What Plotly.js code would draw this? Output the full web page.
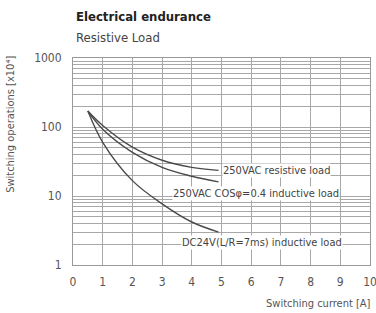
<!DOCTYPE html>
<html>
<head>
<meta charset="utf-8">
<script src="https://cdn.plot.ly/plotly-3.0.1.min.js"></script>
<style>html,body{margin:0;padding:0;background:#fff;}</style>
</head>
<body>
<div id="chart" style="width:376px;height:313px;"></div>
<script>
// Data
const currentA = [0.5, 1, 2, 3, 4, 4.9];
const resistive250 = [170, 105, 51, 33, 26, 23.5];
const inductive250 = [170, 93, 43, 26, 19.3, 16];
const dc24 = [170, 60, 16.7, 7.7, 4.2, 3.0];

const seriesNames = ["250VAC resistive load", "250VAC COSφ=0.4 inductive load", "DC24V(L/R=7ms) inductive load"];
const xTicks = [0,1,2,3,4,5,6,7,8,9,10];
const yDecades = [1, 10, 100, 1000];

const FONT = "'Liberation Sans Narrow', 'DejaVu Sans Condensed', 'Arial Narrow', sans-serif";
const lineColor = "#4a4a4a";

// log gridline values (1..9 per decade)
const yTickVals = [];
const yTickText = [];
for (let d = 0; d < 3; d++) {
  for (let m = 1; m <= 9; m++) {
    const v = m * Math.pow(10, d);
    yTickVals.push(v);
    yTickText.push(yDecades.includes(v) ? String(v) : "");
  }
}
yTickVals.push(1000); yTickText.push("1000");

const traces = [resistive250, inductive250, dc24].map((ys, i) => ({
  x: currentA, y: ys, type: "scatter", mode: "lines",
  line: {color: lineColor, width: 1.4, shape: "spline"},
  name: seriesNames[i], hoverinfo: "skip"
}));

const layout = {
  width: 376, height: 313,
  margin: {l: 73, r: 6, t: 58, b: 48},
  paper_bgcolor: "#fff", plot_bgcolor: "#fff",
  showlegend: false,
  font: {family: FONT, color: "#444", size: 11},
  xaxis: {
    range: [0, 10], tickvals: xTicks, ticktext: xTicks.map(String),
    showgrid: true, gridcolor: "#a8a8a8", gridwidth: 1,
    zeroline: false, showline: true, linecolor: "#999", mirror: true,
    ticks: "", tickfont: {size: 12, family: FONT, color: "#555"}, ticklabelstandoff: 6,
    ticklabeloverflow: "allow"
  },
  yaxis: {
    type: "log", range: [0, 3], tickvals: yTickVals, ticktext: yTickText,
    showgrid: true, gridcolor: "#a8a8a8", gridwidth: 1,
    zeroline: false, showline: true, linecolor: "#999", mirror: true,
    ticks: "", tickfont: {size: 12, family: FONT, color: "#555"}, ticklabelstandoff: 8
  },
  annotations: [
    {text: "<b>Electrical endurance</b>", xref: "paper", yref: "paper", x: 0.005, y: 1.2, xanchor: "left", yanchor: "middle", showarrow: false, font: {size: 13, family: FONT, color: "#222"}},
    {text: "Resistive Load", xref: "paper", yref: "paper", x: 0.005, y: 1.1, xanchor: "left", yanchor: "middle", showarrow: false, font: {size: 13, family: FONT, color: "#444"}},
    {text: "Switching operations [x10⁴]", xref: "paper", yref: "paper", x: -0.21, y: 0.68, xanchor: "center", yanchor: "middle", textangle: -90, showarrow: false, font: {size: 11, family: FONT, color: "#555"}},
    {text: "Switching current [A]", xref: "paper", yref: "paper", x: 1.01, y: -0.185, xanchor: "right", yanchor: "middle", showarrow: false, font: {size: 11, family: FONT, color: "#555"}},
    {text: seriesNames[0], x: 5.02, y: Math.log10(23.8), xanchor: "left", yanchor: "middle", showarrow: false, bgcolor: "#fff", borderpad: 0, font: {size: 11, family: FONT, color: "#444"}},
    {text: seriesNames[1], x: 6.17, y: Math.log10(11.0), xanchor: "center", yanchor: "middle", showarrow: false, bgcolor: "#fff", borderpad: 0, font: {size: 11, family: FONT, color: "#444"}},
    {text: seriesNames[2], x: 6.35, y: Math.log10(2.15), xanchor: "center", yanchor: "middle", showarrow: false, bgcolor: "#fff", borderpad: 0, font: {size: 11, family: FONT, color: "#444"}}
  ]
};

Plotly.newPlot("chart", traces, layout, {staticPlot: true, displayModeBar: false});
</script>
</body>
</html>
